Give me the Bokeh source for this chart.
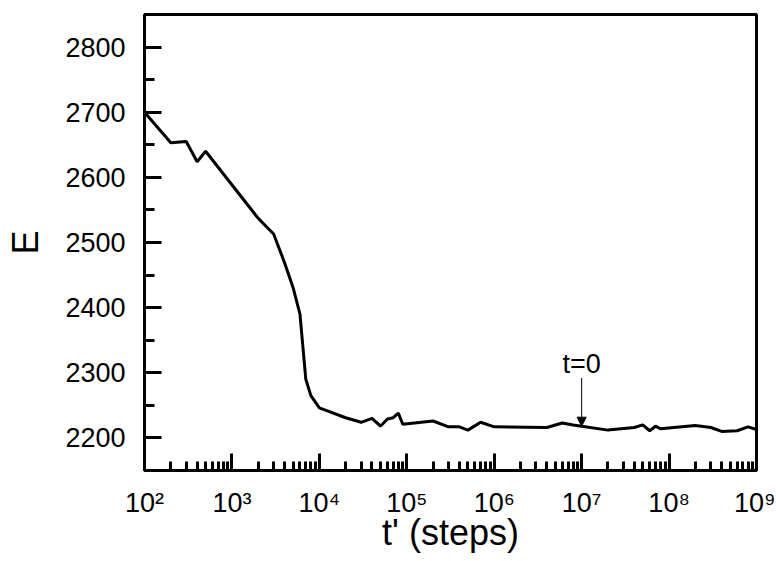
from bokeh.plotting import figure
from bokeh.models import Range1d, Arrow, NormalHead, LogTicker, SingleIntervalTicker, ColumnDataSource
from bokeh.core.properties import value
from bokeh.embed import file_html
from bokeh.resources import INLINE

# data
t_steps = [1e2, 2e2, 3e2, 4e2, 5e2, 2e3, 3e3, 4e3, 5e3, 6e3, 7e3, 8e3, 1e4,
           2e4, 3e4, 4e4, 5e4, 6e4, 7e4, 8e4, 9e4, 2e5, 3e5, 4e5, 5e5, 7e5,
           1e6, 4e6, 6e6, 8e6, 1e7, 2e7, 4e7, 5e7, 6e7, 7e7, 8e7, 2e8, 3e8,
           4e8, 6e8, 8e8, 1e9]
energy = [2700, 2653, 2655, 2624, 2640, 2537, 2513, 2469, 2431, 2390, 2290,
          2265, 2246, 2231, 2224, 2230, 2218, 2229, 2231, 2238, 2221, 2226,
          2217, 2217, 2212, 2224, 2217, 2216, 2223, 2220, 2218, 2212, 2216,
          2220, 2211, 2218, 2214, 2219, 2216, 2210, 2211, 2217, 2213]

x_tick_values = [1e2, 1e3, 1e4, 1e5, 1e6, 1e7, 1e8, 1e9]
x_tick_labels = ["10²", "10³", "10⁴", "10⁵", "10⁶", "10⁷", "10⁸", "10⁹"]

marker_t = [1e7]
marker_text = ["t=0"]
marker_text_y = [2314]
arrow_start = 2292
arrow_end = 2218

FONT = "Liberation Sans"

p = figure(frame_width=612, frame_height=456, x_axis_type="log",
           x_range=Range1d(1e2, 1e9), y_range=Range1d(2150, 2850),
           output_backend="svg", toolbar_location=None,
           min_border_left=144, min_border_right=19,
           min_border_top=14, min_border_bottom=90)

p.grid.visible = False
p.background_fill_color = "white"
p.border_fill_color = "white"
p.outline_line_color = "black"
p.outline_line_width = 3
p.outline_line_alpha = 1

p.line(t_steps, energy, line_color="black", line_width=3)

# arrow + label
p.add_layout(Arrow(end=NormalHead(size=9, fill_color="black", line_color="black", line_width=1),
                   x_start=marker_t[0], y_start=arrow_start,
                   x_end=marker_t[0], y_end=arrow_end,
                   line_color="black", line_width=1))
src = ColumnDataSource(dict(x=marker_t, y=marker_text_y, text=marker_text))
p.text(x="x", y="y", text="text", source=src, text_align="center",
       text_baseline="alphabetic", text_font=value(FONT),
       text_font_size="27px", text_color="black")

# x axis
xa = p.xaxis[0]
xa.ticker = LogTicker(num_minor_ticks=10)
xa.major_label_overrides = {v: lab for v, lab in zip(x_tick_values, x_tick_labels)}
xa.axis_label = "t' (steps)"

# y axis
ya = p.yaxis[0]
ya.ticker = SingleIntervalTicker(interval=100, num_minor_ticks=2)
ya.axis_label = "E"

for ax in (xa, ya):
    ax.axis_line_width = 3
    ax.axis_line_color = "black"
    ax.major_tick_line_width = 3
    ax.minor_tick_line_width = 3
    ax.major_tick_in = 17
    ax.major_tick_out = 0
    ax.minor_tick_in = 9
    ax.minor_tick_out = 0
    ax.major_label_text_font = FONT
    ax.major_label_text_font_size = "27px"
    ax.major_label_text_color = "black"
    ax.axis_label_text_font = FONT
    ax.axis_label_text_font_size = "36px"
    ax.axis_label_text_font_style = "normal"
    ax.axis_label_text_color = "black"

ya.minor_tick_in = 10
ya.major_label_standoff = 19
ya.axis_label_standoff = 16
xa.major_label_standoff = 17
xa.axis_label_standoff = -9

open("out.html", "w").write(file_html(p, INLINE))
